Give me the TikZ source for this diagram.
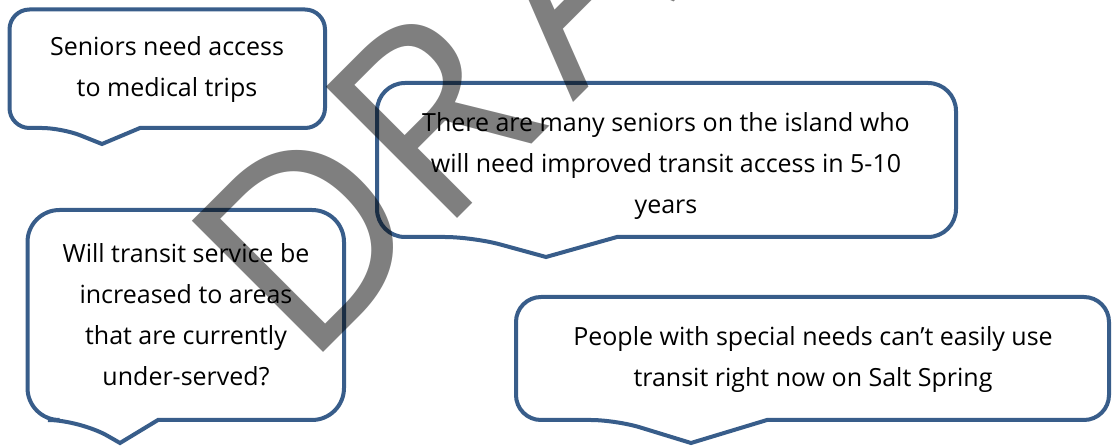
\documentclass[tikz,border=0pt]{standalone}
\usepackage{fontspec}
\setmainfont{Open Sans}
\definecolor{calloutblue}{HTML}{385D8A}
\begin{document}
\begin{tikzpicture}[x=1pt,y=-1pt,line join=miter,
  bubble/.style={draw=calloutblue,line width=4pt,fill=white},
  say/.style={align=center,inner sep=0pt,font=\fontsize{25}{41}\selectfont}]
\useasboundingbox (0,0) rectangle (1112,446);
\filldraw[bubble](140,128)[rounded corners=20]--(325,128)--(325,9.5)--(9.5,9.5)--(9.5,128)--(62,128)[sharp corners]--(102,144)--cycle;
\node[say] (medical) at (167,70) {Seniors need access\\to medical trips};

\filldraw[bubble](617,237)[rounded corners=28]--(956,237)--(956,83)--(377,83)--(377,237)--(473,237)[sharp corners]--(546,257)--cycle;
\node[say] (seniors) at (666,166) {There are many seniors on the island who\\will need improved transit access in 5-10\\years};

\filldraw[bubble](158,420)[rounded corners=32]--(344,420)--(344,210)--(27.5,210)--(27.5,420)--(80,420)[sharp corners]--(120,443)--cycle;
\node[say] (service) at (186,315) {Will transit service be\\increased to areas\\that are currently\\under-served?};

\filldraw[bubble](767,420)[rounded corners=25]--(1109,420)--(1109,297)--(516,297)--(516,420)--(616,420)[sharp corners]--(691,443)--cycle;
\node[say] (needs) at (813,360) {People with special needs can’t easily use\\transit right now on Salt Spring};

\begin{scope}
\clip (0,0) rectangle (1112,446);
\node[anchor=base west,rotate=45,inner sep=0pt,text=black,text opacity=0.5,
  font=\fontsize{260}{260}\selectfont] (draft) at (305,371) {DR\kern30pt AFT};
\end{scope}
\end{tikzpicture}
\end{document}
